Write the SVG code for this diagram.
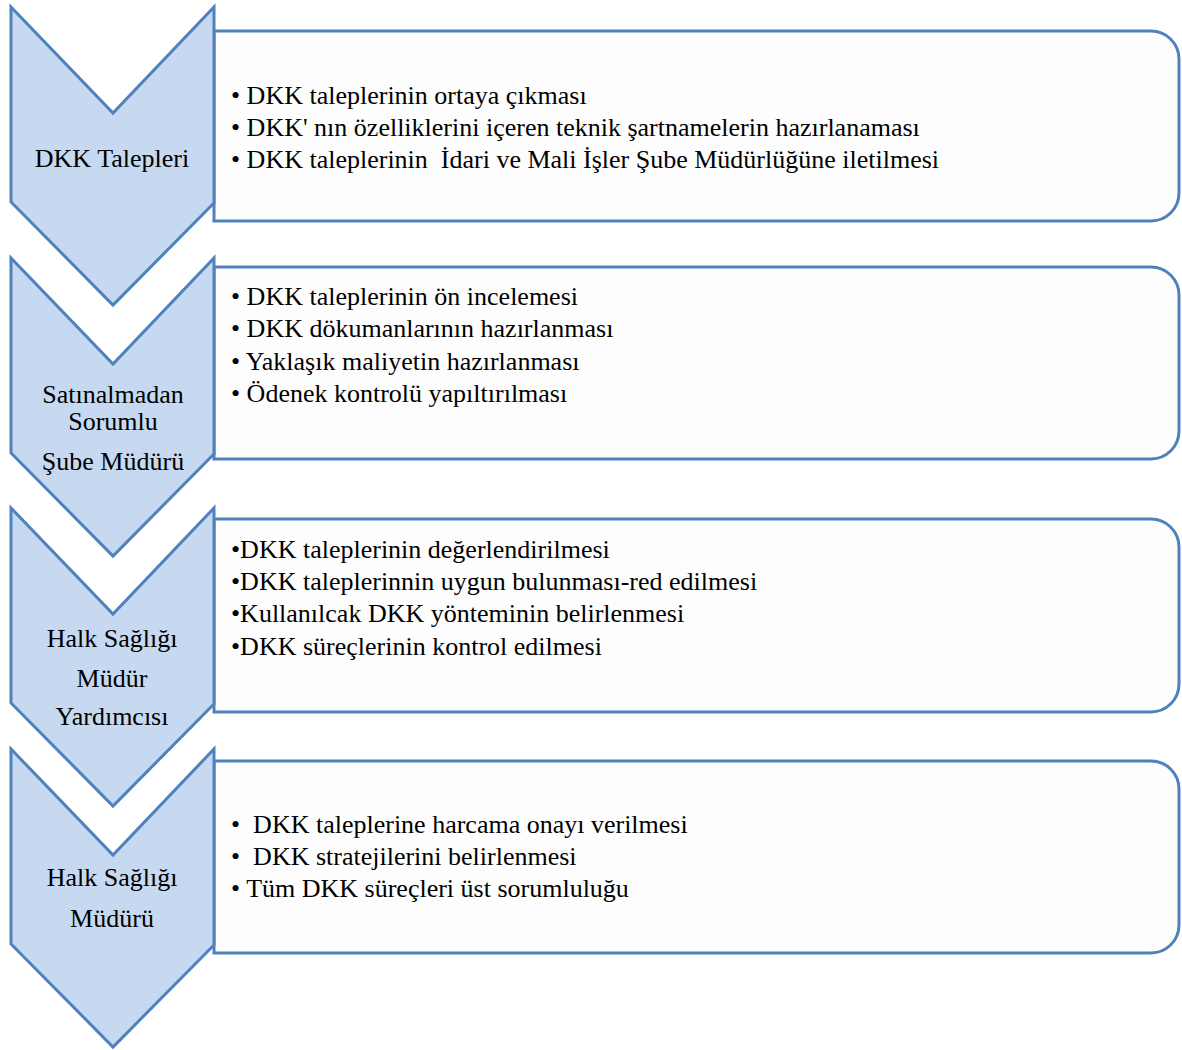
<svg xmlns="http://www.w3.org/2000/svg" width="1182" height="1050" viewBox="0 0 1182 1050">
  <style>
    .box { fill: #FDFDFD; stroke: #4F81BD; stroke-width: 3; }
    .chev { fill: #C6D9F0; stroke: #4F81BD; stroke-width: 3; stroke-linejoin: miter; }
    .label { font-size: 26px; fill: #000; text-anchor: middle; }
    .item { font-size: 26px; fill: #000; white-space: pre; }
  </style>
  <rect x="0" y="0" width="1182" height="1050" fill="#FFFFFF"/>

  <g font-family="Liberation Serif, DejaVu Serif, serif">
  <!-- Step 1 -->
  <g id="step1">
    <path class="box" d="M214,31 H1151 A28,28 0 0 1 1179,59 V193 A28,28 0 0 1 1151,221 H214 Z"/>
    <path class="chev" d="M11,7 L113,113 L214,7 L214,203 L113,305 L11,202 Z"/>
    <text class="label" x="112" y="167">DKK Talepleri</text>
    <text class="item" x="231" y="104" xml:space="preserve">• DKK taleplerinin ortaya çıkması</text>
    <text class="item" x="231" y="136" xml:space="preserve">• DKK' nın özelliklerini içeren teknik şartnamelerin hazırlanaması</text>
    <text class="item" x="231" y="168" xml:space="preserve">• DKK taleplerinin  İdari ve Mali İşler Şube Müdürlüğüne iletilmesi</text>
  </g>

  <!-- Step 2 -->
  <g id="step2">
    <path class="box" d="M214,267 H1151 A28,28 0 0 1 1179,295 V431 A28,28 0 0 1 1151,459 H214 Z"/>
    <path class="chev" d="M11,258 L113,364 L214,258 L214,454 L113,556 L11,453 Z"/>
    <text class="label" x="113" y="403">Satınalmadan</text>
    <text class="label" x="113" y="430">Sorumlu</text>
    <text class="label" x="113" y="470">Şube Müdürü</text>
    <text class="item" x="231" y="305" xml:space="preserve">• DKK taleplerinin ön incelemesi</text>
    <text class="item" x="231" y="337" xml:space="preserve">• DKK dökumanlarının hazırlanması</text>
    <text class="item" x="231" y="370" xml:space="preserve">• Yaklaşık maliyetin hazırlanması</text>
    <text class="item" x="231" y="402" xml:space="preserve">• Ödenek kontrolü yapıltırılması</text>
  </g>

  <!-- Step 3 -->
  <g id="step3">
    <path class="box" d="M214,519 H1151 A28,28 0 0 1 1179,547 V684 A28,28 0 0 1 1151,712 H214 Z"/>
    <path class="chev" d="M11,508 L113,614 L214,508 L214,704 L113,806 L11,703 Z"/>
    <text class="label" x="112" y="647">Halk Sağlığı</text>
    <text class="label" x="112" y="687">Müdür</text>
    <text class="label" x="112" y="725">Yardımcısı</text>
    <text class="item" x="231" y="558" xml:space="preserve">•DKK taleplerinin değerlendirilmesi</text>
    <text class="item" x="231" y="590" xml:space="preserve">•DKK taleplerinnin uygun bulunması-red edilmesi</text>
    <text class="item" x="231" y="622" xml:space="preserve">•Kullanılcak DKK yönteminin belirlenmesi</text>
    <text class="item" x="231" y="655" xml:space="preserve">•DKK süreçlerinin kontrol edilmesi</text>
  </g>

  <!-- Step 4 -->
  <g id="step4">
    <path class="box" d="M214,761 H1151 A28,28 0 0 1 1179,789 V925 A28,28 0 0 1 1151,953 H214 Z"/>
    <path class="chev" d="M11,749 L113,855 L214,749 L214,945 L113,1047 L11,944 Z"/>
    <text class="label" x="112" y="886">Halk Sağlığı</text>
    <text class="label" x="112" y="927">Müdürü</text>
    <text class="item" x="231" y="833" xml:space="preserve">•  DKK taleplerine harcama onayı verilmesi</text>
    <text class="item" x="231" y="865" xml:space="preserve">•  DKK stratejilerini belirlenmesi</text>
    <text class="item" x="231" y="897" xml:space="preserve">• Tüm DKK süreçleri üst sorumluluğu</text>
  </g>
  </g>

  <g id="connectors"></g>
</svg>
